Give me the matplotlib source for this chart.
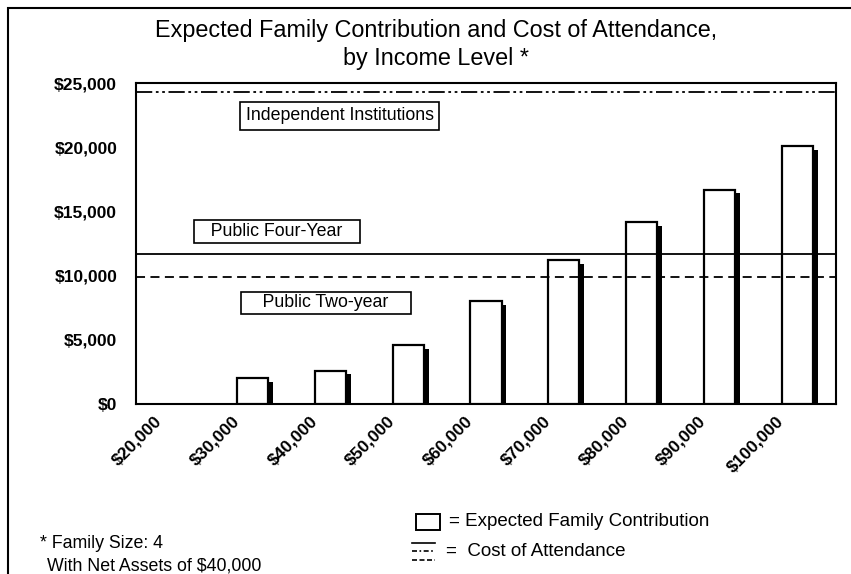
import matplotlib
matplotlib.use('Agg')
import matplotlib.pyplot as plt
from matplotlib.patches import Rectangle
from matplotlib.lines import Line2D
from matplotlib.transforms import ScaledTranslation

plt.rcParams['font.family'] = ['Liberation Sans', 'DejaVu Sans']

# data
incomes = ['$20,000', '$30,000', '$40,000', '$50,000', '$60,000',
           '$70,000', '$80,000', '$90,000', '$100,000']
efc = [0, 2000, 2600, 4600, 8000, 11200, 14200, 16700, 20100]

cost_labels = ['Independent Institutions', 'Public Four-Year', 'Public Two-year']
cost_values = [24300, 11650, 9900]

fig = plt.figure(figsize=(8.51, 5.74), dpi=100)
ax = fig.add_axes([136/851, 1 - 404/574, 700/851, 321/574])

x = list(range(len(incomes)))
w = 0.4
# shadow behind each bar
for xi, v in zip(x, efc):
    if v > 0:
        ax.bar(xi + w/2 + 0.03, v - 300, width=0.065, bottom=0,
               color='black', linewidth=0, zorder=2)
ax.bar([xi for xi, v in zip(x, efc) if v > 0], [v for v in efc if v > 0],
       width=w, color='white', edgecolor='black', linewidth=1.6, zorder=3)

styles = [(0, (9, 2, 1.5, 2, 1.5, 2)), '-', (0, (5, 3))]
for v, ls in zip(cost_values, styles):
    ax.axhline(v, color='black', linestyle=ls, linewidth=1.3, zorder=4)

# boxed labels for the cost lines
box = dict(boxstyle='square,pad=0.3', facecolor='white', edgecolor='black', linewidth=1.2)
box2 = dict(boxstyle='square,pad=0.15', facecolor='white', edgecolor='black', linewidth=1.2)
ax.text(2.12, 22430, cost_labels[0], fontsize=12.8, ha='center', va='center', bbox=box, zorder=5)
ax.text(1.31, 13430, '   ' + cost_labels[1] + '   ', fontsize=12.8,
        ha='center', va='center', bbox=box2, zorder=5)
ax.text(1.94, 7870, '    ' + cost_labels[2] + '    ', fontsize=12.8,
        ha='center', va='center', bbox=box2, zorder=5)

ax.set_xlim(-0.5, 8.5)
ax.set_ylim(0, 25000)
ax.set_yticks([0, 5000, 10000, 15000, 20000, 25000])
ax.set_yticklabels(['$0', '$5,000', '$10,000', '$15,000', '$20,000', '$25,000'],
                   fontsize=12.5, fontweight='bold')
ax.set_xticks(x)
ax.set_xticklabels(incomes, rotation=45, ha='right', va='top',
                   rotation_mode='anchor', fontsize=12.5, fontweight='bold')
ax.tick_params(length=0)
ax.tick_params(axis='y', pad=13.5)
ax.tick_params(axis='x', pad=7)
shift = ScaledTranslation(-0.21, 0, fig.dpi_scale_trans)
for lab in ax.get_xticklabels():
    lab.set_transform(lab.get_transform() + shift)
for s in ax.spines.values():
    s.set_linewidth(1.5)

fig.text(436/851, 1 - 30/574, 'Expected Family Contribution and Cost of Attendance,',
         fontsize=16.8, ha='center', va='center')
fig.text(436/851, 1 - 58/574, 'by Income Level *', fontsize=16.8, ha='center', va='center')

# footnote
fig.text(40/851, 1 - 543/574, '* Family Size: 4', fontsize=12.8, va='center')
fig.text(47/851, 1 - 566/574, 'With Net Assets of $40,000', fontsize=12.8, va='center')

# legend drawn by hand
fig.patches.append(Rectangle((416/851, 1 - 530/574), 24/851, 16/574,
                             transform=fig.transFigure, facecolor='white',
                             edgecolor='black', linewidth=1.4))
fig.text(449/851, 1 - 521/574, '= Expected Family Contribution', fontsize=13.5, va='center')
for yy, ls in zip([543, 551, 560], ['-', (0, (3, 1.5, 1, 1.5)), (0, (3, 1.5))]):
    fig.lines.append(Line2D([412/851, 435/851], [1 - yy/574, 1 - yy/574],
                            transform=fig.transFigure, color='black',
                            linestyle=ls, linewidth=1.2))
fig.text(446/851, 1 - 551/574, '=  Cost of Attendance', fontsize=13.5, va='center')

# outer frame (left and top edges visible)
fig.patches.append(Rectangle((8/851, -0.05), 1.05, 1 - 8/574 + 0.05,
                             transform=fig.transFigure, facecolor='none',
                             edgecolor='black', linewidth=1.5))

fig.savefig('out.png', dpi=100)
